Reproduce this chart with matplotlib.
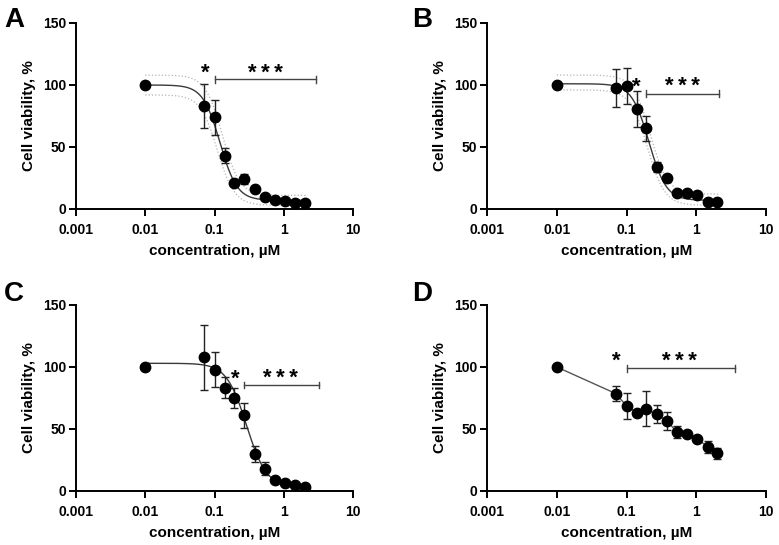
import numpy as np
import matplotlib
matplotlib.use("Agg")
import matplotlib.pyplot as plt

plt.rcParams['font.family'] = ['Liberation Sans', 'DejaVu Sans']
plt.rcParams['font.weight'] = 'bold'

# concentrations (uM), same for all four panels
conc = [0.01, 0.07, 0.1, 0.14, 0.19, 0.27, 0.38, 0.53, 0.74, 1.03, 1.45, 2.0]

# mean cell viability (%) and SD per panel
via_a = [100, 83.2, 73.8, 43.1, 20.7, 24.2, 16.2, 9.4, 7.3, 6.7, 5.1, 4.8]
err_a = [0, 17.6, 14.4, 6.0, 2.0, 4.0, 2.5, 1.5, 1.0, 1.0, 1.0, 1.0]
via_b = [100, 97.8, 99.4, 80.5, 65.2, 34.2, 24.8, 12.7, 12.7, 11.6, 5.4, 5.4]
err_b = [0, 15.2, 14.4, 14.5, 10.0, 4.0, 3.0, 1.0, 1.0, 1.0, 1.0, 1.0]
via_c = [100, 107.7, 97.8, 83.2, 75.1, 60.9, 29.6, 18.0, 8.6, 6.5, 4.6, 3.5]
err_c = [0, 26.3, 13.9, 8.4, 8.1, 10.0, 6.5, 5.0, 1.0, 1.0, 1.0, 1.0]
via_d = [100, 78.6, 68.7, 63.3, 66.5, 61.9, 56.6, 47.4, 45.8, 42.3, 35.6, 30.4]
err_d = [0, 6.0, 10.5, 1.0, 14.3, 7.2, 7.4, 5.0, 1.5, 1.5, 4.7, 4.2]

# 4-parameter logistic fits: (top, bottom, IC50, hill)
fit_a = (100, 7, 0.12, 3.5)
band_a = [(108, 11, 0.13, 3.5), (92, 3, 0.11, 3.5)]
fit_b = (101, 7, 0.21, 3.5)
band_b = [(108, 12, 0.22, 3.5), (96, 3, 0.20, 3.5)]
fit_c = (103, 3, 0.29, 3.0)

# significance annotations: (x of *, x of ***, y of stars, bracket x0, x1, bracket y)
sig_a = (0.074, 0.54, 115, 0.1, 2.9, 104.5)
sig_b = (0.139, 0.64, 104, 0.19, 2.1, 93)
sig_c = (0.199, 0.90, 96, 0.27, 3.2, 85.5)
sig_d = (0.072, 0.57, 110, 0.1, 3.55, 99)


def logistic(x, p):
    top, bottom, ic50, hill = p
    return bottom + (top - bottom) / (1 + (x / ic50) ** hill)


fig = plt.figure(figsize=(7.79, 5.45), dpi=100)
W, H = 779, 545
boxes = {'A': (76, 23, 353, 209), 'B': (487, 23, 766, 209),
         'C': (76, 305, 353, 491), 'D': (487, 305, 766, 491)}
letters = {'A': (4, 7), 'B': (412, 7), 'C': (4, 281), 'D': (412, 281)}

panels = {
    'A': (via_a, err_a, fit_a, band_a, sig_a),
    'B': (via_b, err_b, fit_b, band_b, sig_b),
    'C': (via_c, err_c, fit_c, None, sig_c),
    'D': (via_d, err_d, None, None, sig_d),
}

xs = np.logspace(np.log10(0.01), np.log10(2.2), 300)

for key, (via, err, fit, band, sig) in panels.items():
    l, t, r, b = boxes[key]
    ax = fig.add_axes([l / W, 1 - b / H, (r - l) / W, (b - t) / H])
    ax.set_xscale('log')
    ax.set_xlim(0.001, 10)
    ax.set_ylim(0, 150)

    if band is not None:
        for p in band:
            ax.plot(xs, logistic(xs, p), color='#b5b5b5', lw=0.9, ls=':')
    if fit is not None:
        ax.plot(xs, logistic(xs, fit), color='#3a3a3a', lw=1.0)
    else:
        ax.plot(conc, via, color='#555555', lw=1.0)

    ax.errorbar(conc, via, yerr=err, fmt='o', color='black', ms=7.5,
                ecolor='#222222', elinewidth=1.0, capsize=3, capthick=1.0,
                zorder=3)

    xs1, xs3, ys, bx0, bx1, by = sig
    # star glyphs sit high above the baseline, so drop the baseline a bit
    ax.text(xs1, ys - 10, '*', ha='center', va='baseline', fontsize=16,
            fontweight='bold')
    ax.text(xs3, ys - 10, '*\u2009*\u2009*', ha='center', va='baseline',
            fontsize=16, fontweight='bold')
    ax.plot([bx0, bx1], [by, by], color='#444444', lw=1.0)
    for bx in (bx0, bx1):
        ax.plot([bx, bx], [by - 2.8, by + 2.8], color='#444444', lw=1.0)

    ax.set_xticks([0.001, 0.01, 0.1, 1, 10])
    ax.set_xticklabels(['0.001', '0.01', '0.1', '1', '10'])
    ax.minorticks_off()
    ax.set_yticks([0, 50, 100, 150])
    for side in ('top', 'right'):
        ax.spines[side].set_visible(False)
    for side in ('left', 'bottom'):
        ax.spines[side].set_linewidth(1.4)
    ax.tick_params(width=1.4, length=5, labelsize=10)
    ax.tick_params(axis='x', pad=5)
    ax.tick_params(axis='y', pad=2)
    for lab in ax.get_xticklabels() + ax.get_yticklabels():
        lab.set_fontweight('bold')
    ax.set_xlabel('concentration, \u00b5M', fontsize=11, fontweight='bold',
                  labelpad=5)
    ax.set_ylabel('Cell viability, %', fontsize=11, fontweight='bold',
                  labelpad=5)

    lx, ly = letters[key]
    fig.text(lx / W, 1 - ly / H, key, ha='left', va='top', fontsize=20,
             fontweight='bold')

fig.savefig('out.png', dpi=100)
